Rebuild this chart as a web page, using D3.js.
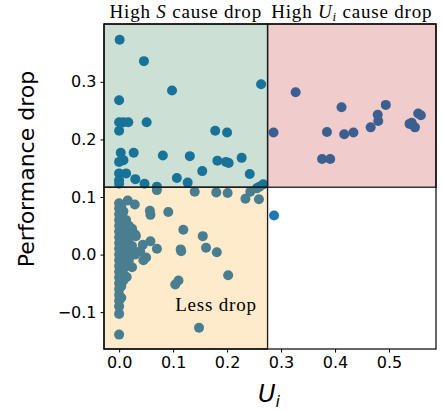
<!DOCTYPE html>
<html>
<head>
<meta charset="utf-8">
<script src="https://cdn.jsdelivr.net/npm/d3@7"></script>
<style>
  body { margin: 0; background: #fff; }
  svg { display: block; }
</style>
</head>
<body>
<svg id="chart" width="443" height="411"></svg>
<script>
// MARK: Data.

const X_TICKS = [0, 0.1, 0.2, 0.3, 0.4, 0.5]
const Y_TICKS = [-0.1, 0, 0.1, 0.2, 0.3]
const U_THRESHOLD    = 0.275
const DROP_THRESHOLD = 0.117

// [U_i, performance drop]
const highS = [
  [0.001, 0.373], [0.046, 0.336], [0.098, 0.285], [0.263, 0.296], [0.000, 0.268],
  [0.000, 0.230], [0.008, 0.230], [0.017, 0.230], [0.051, 0.230], [0.000, 0.215],
  [0.178, 0.215], [0.200, 0.212], [0.003, 0.177], [0.027, 0.177], [0.000, 0.161],
  [0.008, 0.164], [0.081, 0.172], [0.131, 0.171], [0.154, 0.145], [0.182, 0.163],
  [0.198, 0.161], [0.203, 0.159], [0.227, 0.168], [0.242, 0.140], [0.000, 0.141],
  [0.013, 0.141], [0.000, 0.129], [0.030, 0.131], [0.047, 0.123], [0.070, 0.118],
  [0.107, 0.133], [0.127, 0.125], [0.267, 0.122], [0.260, 0.118], [0.000, 0.123],
  [0.255, 0.115]
]

const highU = [
  [0.327, 0.282], [0.286, 0.212], [0.385, 0.213], [0.412, 0.256], [0.376, 0.166],
  [0.391, 0.166], [0.417, 0.209], [0.434, 0.212], [0.466, 0.221], [0.479, 0.243],
  [0.480, 0.232], [0.494, 0.260], [0.538, 0.227], [0.542, 0.229], [0.548, 0.221],
  [0.554, 0.245], [0.559, 0.242]
]

const lessDrop = [
  [0.070, 0.112], [0.140, 0.109], [0.180, 0.108], [0.201, 0.107], [0.234, 0.097],
  [0.243, 0.109], [0.259, 0.096],
  [0.016, 0.094], [0.029, 0.087], [0.057, 0.076], [0.058, 0.069], [0.091, 0.074],
  [0.031, 0.032], [0.058, 0.023], [0.070, 0.010], [0.119, 0.043], [0.155, 0.032],
  [0.161, 0.012], [0.181, 0.004], [0.114, 0.009], [0.115, 0.006], [0.039, 0.006],
  [0.045, -0.010], [0.050, -0.005], [0.024, -0.022], [0.202, -0.036], [0.110, -0.045],
  [0.104, -0.052], [0.148, -0.127], [0.044, 0.017], [0.014, -0.039],
  // dense column near U_i = 0
  [0.000, 0.089], [0.000, 0.080], [0.000, 0.070], [0.000, 0.060], [0.000, 0.050],
  [0.000, 0.040], [0.000, 0.030], [0.000, 0.020], [0.000, 0.010], [0.000, 0.000],
  [0.000, -0.010], [0.000, -0.020], [0.000, -0.030], [0.000, -0.040], [0.000, -0.050],
  [0.000, -0.060], [0.000, -0.070], [0.000, -0.080], [0.000, -0.090], [0.000, -0.103],
  [0.000, -0.139],
  [0.004, 0.085], [0.004, 0.065], [0.004, 0.045], [0.004, 0.025], [0.004, 0.005],
  [0.004, -0.015], [0.004, -0.035], [0.004, -0.055], [0.004, -0.075],
  [0.008, 0.075], [0.008, 0.055], [0.008, 0.035], [0.008, 0.015], [0.008, -0.005],
  [0.008, -0.025], [0.008, -0.045],
  [0.013, 0.060], [0.013, 0.040], [0.013, 0.020], [0.013, 0.000], [0.013, -0.020],
  [0.018, 0.050], [0.018, 0.028], [0.018, 0.010], [0.018, -0.010],
  [0.024, 0.045], [0.024, 0.015], [0.030, 0.035], [0.030, 0.000]
]

const other = [[0.287, 0.068]]

// MARK: Layout.

const MARGIN = { left: 104, right: 7, top: 24, bottom: 62 }
const WIDTH  = 443
const HEIGHT = 411
const RADIUS = 5

const svg = d3.select('#chart')

const x = d3.scaleLinear()
  .domain([-0.028, 0.587])
  .range([MARGIN.left, WIDTH - MARGIN.right])
const y = d3.scaleLinear()
  .domain([-0.164, 0.4005])
  .range([HEIGHT - MARGIN.bottom, MARGIN.top])

const [x0, x1] = x.range()
const [yBottom, yTop] = y.range()

// Points first, the tinted quadrants are laid over them
const points = highS.concat(highU, lessDrop, other)
svg.append('g').attr('class', 'points')
  .selectAll('circle')
  .data(points).enter()
  .append('circle')
    .attr('cx'  , (d) => x(d[0]))
    .attr('cy'  , (d) => y(d[1]))
    .attr('r'   , RADIUS)
    .attr('fill', '#1f77b4')

const quadrants = [
  { name: 'highS', x0: x0,            x1: x(U_THRESHOLD), y0: yTop,              y1: y(DROP_THRESHOLD), fill: 'rgb(0, 100, 45)' },
  { name: 'highU', x0: x(U_THRESHOLD), x1: x1,          y0: yTop,              y1: y(DROP_THRESHOLD), fill: 'rgb(180, 0, 0)' },
  { name: 'less',  x0: x0,            x1: x(U_THRESHOLD), y0: y(DROP_THRESHOLD), y1: yBottom,         fill: 'rgb(245, 155, 0)' },
]

const quads = svg.append('g').attr('class', 'quadrants')
quads.selectAll('rect.fill')
  .data(quadrants).enter()
  .append('rect')
    .attr('class'  , 'fill')
    .attr('x'      , (d) => d.x0)
    .attr('y'      , (d) => d.y0)
    .attr('width'  , (d) => d.x1 - d.x0)
    .attr('height' , (d) => d.y1 - d.y0)
    .attr('fill'   , (d) => d.fill)
    .attr('opacity', 0.2)
quads.selectAll('rect.edge')
  .data(quadrants).enter()
  .append('rect')
    .attr('class'       , 'edge')
    .attr('x'           , (d) => d.x0)
    .attr('y'           , (d) => d.y0)
    .attr('width'       , (d) => d.x1 - d.x0)
    .attr('height'      , (d) => d.y1 - d.y0)
    .attr('fill'        , 'none')
    .attr('stroke'      , '#1a1a1a')
    .attr('stroke-width', 1.3)

// Axes frame
svg.append('rect')
  .attr('x'           , x0)
  .attr('y'           , yTop)
  .attr('width'       , x1 - x0)
  .attr('height'      , yBottom - yTop)
  .attr('fill'        , 'none')
  .attr('stroke'      , '#000')
  .attr('stroke-width', 1.2)

const xAxis = svg.append('g')
  .attr('transform', `translate(0, ${yBottom})`)
  .call(d3.axisBottom(x).tickValues(X_TICKS).tickFormat(d3.format('.1f')).tickSize(3.5).tickPadding(4))
const yAxis = svg.append('g')
  .attr('transform', `translate(${x0}, 0)`)
  .call(d3.axisLeft(y).tickValues(Y_TICKS).tickFormat(d3.format('.1f')).tickSize(3.5).tickPadding(4))

for (const axis of [xAxis, yAxis]) {
  axis.select('.domain').remove()
  axis.selectAll('text')
    .attr('fill'       , '#000')
    .style('font-family', 'DejaVu Sans')
    .style('font-size'  , '16px')
  axis.selectAll('line').attr('stroke', '#000')
}

// Axis labels
svg.append('text')
  .attr('transform'  , 'translate(34, 169) rotate(-90)')
  .attr('text-anchor', 'middle')
  .style('font-family', 'DejaVu Sans')
  .style('font-size'  , '22px')
  .text('Performance drop')

const xLabel = svg.append('text')
  .attr('x'          , 258)
  .attr('y'          , 402)
  .style('font-family', 'DejaVu Sans')
  .style('font-size'  , '24px')
xLabel.append('tspan').style('font-style', 'italic').text('U')
xLabel.append('tspan').style('font-style', 'italic').style('font-size', '16px').attr('dy', 5).text('i')

// Annotations, LaTeX-ish serif
const SERIF = 'Liberation Serif'
const title1 = svg.append('text')
  .attr('x', (x0 + x(U_THRESHOLD)) / 2).attr('y', 18)
  .attr('text-anchor', 'middle')
  .style('font-family', SERIF).style('font-size', '19px').style('letter-spacing', '0.8px')
title1.append('tspan').text('High ')
title1.append('tspan').style('font-style', 'italic').text('S')
title1.append('tspan').text(' cause drop')

const title2 = svg.append('text')
  .attr('x', (x(U_THRESHOLD) + x1) / 2).attr('y', 18)
  .attr('text-anchor', 'middle')
  .style('font-family', SERIF).style('font-size', '19px').style('letter-spacing', '0.8px')
title2.append('tspan').text('High ')
title2.append('tspan').style('font-style', 'italic').text('U')
title2.append('tspan').style('font-style', 'italic').style('font-size', '13px').attr('dy', 3).text('i')
title2.append('tspan').attr('dy', -3).text(' cause drop')

svg.append('text')
  .attr('x', 216).attr('y', 311)
  .attr('text-anchor', 'middle')
  .style('font-family', SERIF).style('font-size', '19px').style('letter-spacing', '0.8px')
  .text('Less drop')
</script>
</body>
</html>
